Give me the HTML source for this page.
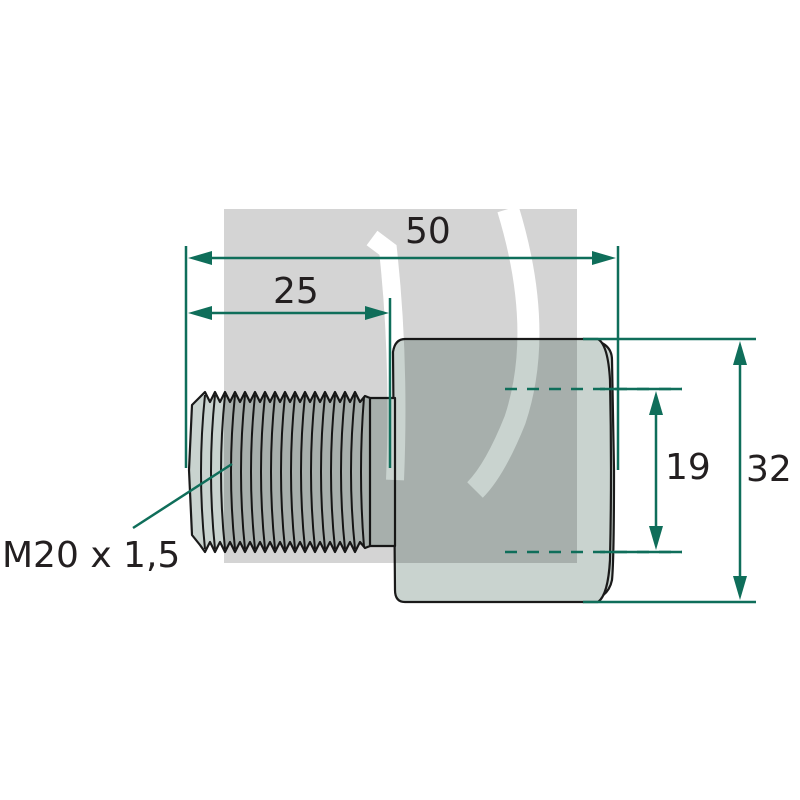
<!DOCTYPE html>
<html><head><style>html,body{margin:0;padding:0;background:#fff}svg{display:block}</style></head>
<body>
<svg width="800" height="800" viewBox="0 0 800 800" xmlns="http://www.w3.org/2000/svg" font-family="'DejaVu Sans','Liberation Sans',sans-serif">
<!-- watermark -->
<rect x="224" y="209" width="353" height="354" fill="#d4d4d4"/>
<path d="M372 238 L388 250 Q400 360 395 480" stroke="#fff" stroke-width="18" fill="none"/>
<path d="M508 209 Q545 330 515 420 Q495 470 475 490" stroke="#fff" stroke-width="22" fill="none"/>
<!-- part -->
<g style="mix-blend-mode:multiply" stroke="#1a1a1a" stroke-width="2.2" stroke-linejoin="round">
<path d="M583 339 Q612 340 612 360 L614 470 Q614 560 612 580 Q608 600 583 602 Z" fill="#c9d3cf"/>
<path d="M405 339 L598 339 Q608 345 610 380 Q612 470 610 560 Q608 595 598 602 L405 602 Q395 602 395 590 L393 352 Q395 339 405 339 Z" fill="#c9d3cf"/>
<rect x="368" y="398" width="27" height="148" fill="#c9d3cf"/>
<path d="M192 405 L200 397 205 392 210 402 215 392 220 402 225 392 230 402 235 392 240 402 245 392 250 402 255 392 260 402 265 392 270 402 275 392 280 402 285 392 290 402 295 392 300 402 305 392 310 402 315 392 320 402 325 392 330 402 335 392 340 402 345 392 350 402 355 392 360 402 365 396 370 398 370 546 365 548 360 542 355 552 350 542 345 552 340 542 335 552 330 542 325 552 320 542 315 552 310 542 305 552 300 542 295 552 290 542 285 552 280 542 275 552 270 542 265 552 260 542 255 552 250 542 245 552 240 542 235 552 230 542 225 552 220 542 215 552 210 542 205 552 200 545 192 535 189 470 Z" fill="#c9d3cf"/>
<g fill="none" stroke-width="2">
<path d="M205 395 Q197 472 205 549"/><path d="M215 395 Q207 472 215 549"/><path d="M225 395 Q217 472 225 549"/><path d="M235 395 Q227 472 235 549"/><path d="M245 395 Q237 472 245 549"/><path d="M255 395 Q247 472 255 549"/><path d="M265 395 Q257 472 265 549"/><path d="M275 395 Q267 472 275 549"/><path d="M285 395 Q277 472 285 549"/><path d="M295 395 Q287 472 295 549"/><path d="M305 395 Q297 472 305 549"/><path d="M315 395 Q307 472 315 549"/><path d="M325 395 Q317 472 325 549"/><path d="M335 395 Q327 472 335 549"/><path d="M345 395 Q337 472 345 549"/><path d="M355 395 Q347 472 355 549"/><path d="M364 397 Q358 472 364 547"/>
</g>
</g>
<!-- dimensions -->
<g stroke="#0f6e5a" stroke-width="2.5" fill="none">
<line x1="186" y1="246" x2="186" y2="468"/>
<line x1="618" y1="246" x2="618" y2="470"/>
<line x1="390" y1="298" x2="390" y2="468"/>
<line x1="200" y1="258" x2="604" y2="258"/>
<line x1="200" y1="313" x2="376" y2="313"/>
<line x1="583" y1="339" x2="756" y2="339"/>
<line x1="583" y1="602" x2="756" y2="602"/>
<line x1="740" y1="355" x2="740" y2="586"/>
<line x1="505" y1="389" x2="682" y2="389" stroke-dasharray="12 10"/>
<line x1="505" y1="552" x2="682" y2="552" stroke-dasharray="12 10"/>
<line x1="600" y1="389" x2="682" y2="389"/>
<line x1="600" y1="552" x2="682" y2="552"/>
<line x1="656" y1="405" x2="656" y2="536"/>
<line x1="133" y1="528" x2="232" y2="464"/>
</g>
<g fill="#0f6e5a">
<polygon points="188,258 212,251 212,265"/>
<polygon points="616,258 592,251 592,265"/>
<polygon points="188,313 212,306 212,320"/>
<polygon points="389,313 365,306 365,320"/>
<polygon points="740,341 733,365 747,365"/>
<polygon points="740,600 733,576 747,576"/>
<polygon points="656,391 649,415 663,415"/>
<polygon points="656,550 649,526 663,526"/>
</g>
<g fill="#231f20" font-size="36">
<text x="405" y="243">50</text>
<text x="273" y="303">25</text>
<text x="665" y="479">19</text>
<text x="746" y="481">32</text>
<text x="2" y="567">M20 x 1,5</text>
</g>
</svg>
</body></html>
